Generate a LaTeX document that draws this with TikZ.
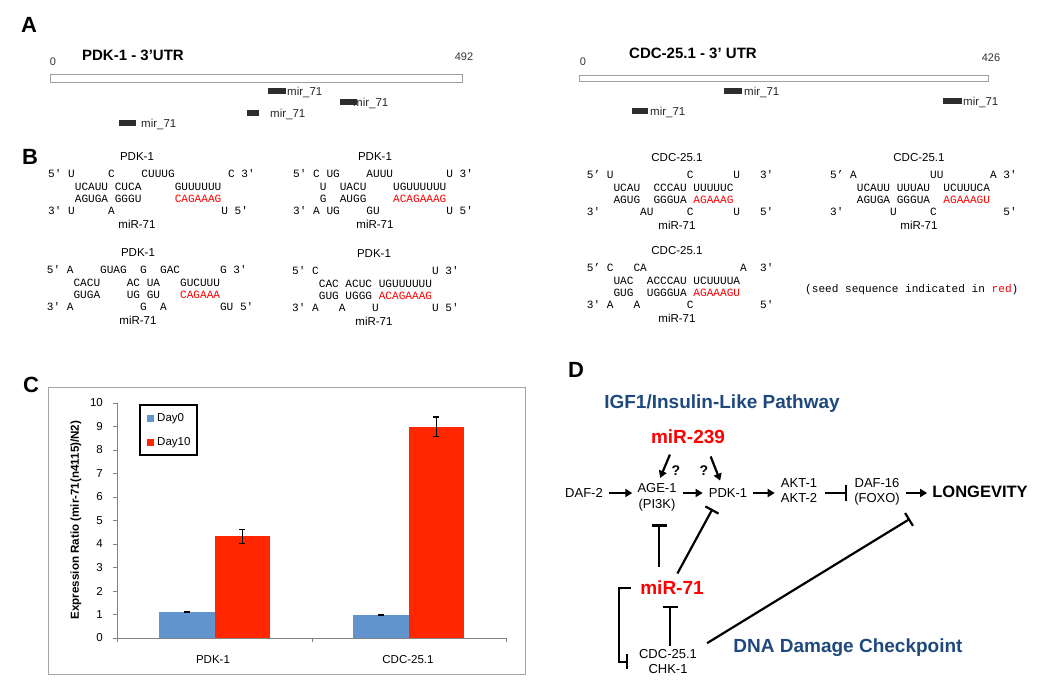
\documentclass[tikz,border=0pt]{standalone}
\usepackage{fontspec}
\setmainfont{Liberation Sans}
\setmonofont{Liberation Mono}
\usepackage{tikz}
\usetikzlibrary{arrows.meta,positioning,calc}

\definecolor{pathblue}{RGB}{31,73,125}
\definecolor{mirred}{RGB}{255,0,0}
\definecolor{seedred}{RGB}{255,0,0}
\definecolor{dayzero}{RGB}{98,149,206}
\definecolor{dayten}{RGB}{255,38,0}
\definecolor{framegray}{RGB}{165,165,165}
\definecolor{axisgray}{RGB}{130,130,130}
\definecolor{sitegray}{RGB}{45,45,45}

\newcommand{\seed}[1]{\textcolor{seedred}{#1}}
% #1 name, #2 left x, #3 first row y, #4 centre x of labels, #5 target, #6-#9 rows
\newcommand{\hybrid}[9]{%
  \node[genelabel] (#1-t) at (#4,#3-18) {#5};
  \node[seqrow] (#1-a) at (#2,#3+3) {#6};
  \node[seqrow] (#1-b) at (#2,#3+15.3) {#7};
  \node[seqrow] (#1-c) at (#2,#3+27.6) {#8};
  \node[seqrow] (#1-d) at (#2,#3+39.9) {#9};
  \node[genelabel] (#1-m) at (#4,#3+49) {miR-71};
}

\tikzset{
  panel/.style={font=\bfseries\fontsize{22}{26}\selectfont, inner sep=0pt},
  utrtitle/.style={font=\bfseries\fontsize{15}{18}\selectfont, inner sep=0pt},
  utrbar/.style={draw=gray!75, fill=white, line width=0.8pt},
  sitelabel/.style={font=\fontsize{11.5}{14}\selectfont, anchor=base west, inner sep=0pt, text=black!85},
  scalelabel/.style={font=\fontsize{11}{13}\selectfont, inner sep=0pt, text=black!80},
  genelabel/.style={font=\fontsize{11.5}{14}\selectfont, inner sep=0pt},
  seqrow/.style={font=\ttfamily\fontsize{11.1}{13}\selectfont, anchor=base west, inner sep=0pt},
  ticklabel/.style={font=\fontsize{11.5}{14}\selectfont, anchor=east, inner sep=0pt},
  catlabel/.style={font=\fontsize{11.5}{14}\selectfont, inner sep=0pt},
  axislabel/.style={font=\bfseries\fontsize{11.6}{14}\selectfont, inner sep=0pt},
  legendtext/.style={font=\fontsize{11.5}{14}\selectfont, anchor=west, inner sep=0pt},
  errbar/.style={line width=1.2pt, black},
  pathway/.style={font=\bfseries\fontsize{19}{22}\selectfont, text=pathblue},
  mirna/.style={font=\bfseries\fontsize{19}{22}\selectfont, text=mirred, inner sep=3pt},
  gene/.style={font=\fontsize{13}{15.5}\selectfont, align=center, inner sep=3pt},
  outcome/.style={font=\bfseries\fontsize{16.5}{19}\selectfont, inner sep=3pt},
  query/.style={font=\bfseries\fontsize{14}{16}\selectfont, inner sep=0pt},
  act/.style={line width=2.2pt, -{Triangle[length=7pt,width=8pt]}},
  inh/.style={line width=2.2pt, -{Bar[width=15pt]}}
}

\begin{document}
\begin{tikzpicture}[x=1pt,y=-1pt]
  \useasboundingbox (0,0) rectangle (1050,692);

  % Panel A: miR-71 sites along the 3'UTRs
  \node[panel] (labA) at (29,25) {A};
  \node[utrtitle] (utrpdk) at (133,55) {PDK-1 - 3’UTR};
  \node[scalelabel] (pdkzero) at (53,62) {0};
  \node[scalelabel] (pdkend) at (464,57) {492};
  \draw[utrbar] (50,74) rectangle (462,82);
  \node[utrtitle] (utrcdc) at (693,53) {CDC-25.1 - 3’ UTR};
  \node[scalelabel] (cdczero) at (583,62) {0};
  \node[scalelabel] (cdcend) at (991,58) {426};
  \draw[utrbar] (579,75) rectangle (988,81);
  \foreach \xa/\ya/\xb/\xl [count=\i] in {268/88/286/287, 353/99/357/353, 247/110/259/270,
      119/120/136/141, 724/88/742/744, 943/98/962/963, 632/108/648/650} {
    \node[sitelabel] (site\i) at (\xl,\ya+7.1) {mir\_71};
    \fill[sitegray] (\xa,\ya) rectangle (\xb,\ya+6);
  }
  \fill[sitegray] (340,99) rectangle (357,105);

  % Panel B: predicted duplexes
  \node[panel] (labB) at (30,157) {B};
  \hybrid{pa}{48}{175}{137}{PDK-1}
    {5'~U~~~~~C~~~~CUUUG~~~~~~~~C~3'}
    {~~~~UCAUU~CUCA~~~~~GUUUUUU}
    {~~~~AGUGA~GGGU~~~~~\seed{CAGAAAG}}
    {3'~U~~~~~A~~~~~~~~~~~~~~~~U~5'}
  \hybrid{pb}{293}{175}{375}{PDK-1}
    {5'~C~UG~~~~AUUU~~~~~~~~U~3'}
    {~~~~U~~UACU~~~~UGUUUUUU}
    {~~~~G~~AUGG~~~~\seed{ACAGAAAG}}
    {3'~A~UG~~~~GU~~~~~~~~~~U~5'}
  \hybrid{pc}{46.7}{271}{138}{PDK-1}
    {5'~A~~~~GUAG~~G~~GAC~~~~~~G~3'}
    {~~~~CACU~~~~AC~UA~~~GUCUUU}
    {~~~~GUGA~~~~UG~GU~~~\seed{CAGAAA}}
    {3'~A~~~~~~~~~~G~~A~~~~~~~~GU~5'}
  \hybrid{pd}{292}{272}{374}{PDK-1}
    {5'~C~~~~~~~~~~~~~~~~~U~3'}
    {~~~~CAC~ACUC~UGUUUUUU}
    {~~~~GUG~UGGG~\seed{ACAGAAAG}}
    {3'~A~~~A~~~~U~~~~~~~~U~5'}
  \hybrid{pe}{586.7}{176}{677}{CDC-25.1}
    {5’~U~~~~~~~~~~~C~~~~~~U~~~3'}
    {~~~~UCAU~~CCCAU~UUUUUC}
    {~~~~AGUG~~GGGUA~\seed{AGAAAG}}
    {3'~~~~~~AU~~~~~C~~~~~~U~~~5'}
  \hybrid{pf}{830}{176}{919}{CDC-25.1}
    {5’~A~~~~~~~~~~~UU~~~~~~~A~3'}
    {~~~~UCAUU~UUUAU~~UCUUUCA}
    {~~~~AGUGA~GGGUA~~\seed{AGAAAGU}}
    {3'~~~~~~~U~~~~~C~~~~~~~~~~5'}
  \hybrid{pg}{586.7}{269}{677}{CDC-25.1}
    {5’~C~~~CA~~~~~~~~~~~~~~A~~3'}
    {~~~~UAC~~ACCCAU~UCUUUUA}
    {~~~~GUG~~UGGGUA~\seed{AGAAAGU}}
    {3'~A~~~A~~~~~~~C~~~~~~~~~~5'}
  \node[seqrow] (seednote) at (805,293) {(seed sequence indicated in \seed{red})};

  % Panel C: expression ratio chart
  \node[panel] (labC) at (31,385) {C};
  \draw[framegray, line width=1pt] (48,388) rectangle (525,674);
  \begin{scope}[shift={(117,638)}, y=23.5pt]
    \foreach \v in {0,...,10} {
      \draw[axisgray] (-4,\v) -- (0,\v);
      \node[ticklabel] (ytick\v) at (-14,\v) {\v};
    }
    \foreach \cx/\vz/\ez/\vt/\et in {97.5/1.1/0.02/4.33/0.3, 291.5/0.98/0.03/8.98/0.42} {
      \fill[dayzero] (\cx-55.5,0) rectangle (\cx,\vz);
      \fill[dayten] (\cx,0) rectangle (\cx+55.5,\vt);
      \draw[errbar] ({\cx-27.75},{\vz-\ez}) -- ({\cx-27.75},{\vz+\ez})
        ({\cx-30.75},{\vz-\ez}) -- ({\cx-24.75},{\vz-\ez})
        ({\cx-30.75},{\vz+\ez}) -- ({\cx-24.75},{\vz+\ez});
      \draw[errbar] ({\cx+27.75},{\vt-\et}) -- ({\cx+27.75},{\vt+\et})
        ({\cx+24.75},{\vt-\et}) -- ({\cx+30.75},{\vt-\et})
        ({\cx+24.75},{\vt+\et}) -- ({\cx+30.75},{\vt+\et});
    }
    \draw[axisgray] (0,10) -- (0,0) -- (389,0);
    \foreach \x in {0,195,389} \draw[axisgray] (\x,0) -- (\x,-0.17);
  \end{scope}
  \node[catlabel] (catpdk) at (213,660) {PDK-1};
  \node[catlabel] (catcdc) at (408,660) {CDC-25.1};
  \node[axislabel, rotate=90] (ylab) at (76,520) {Expression Ratio (mir-71(n4115)/N2)};
  \draw[black, line width=1.3pt] (140,405) rectangle (197,455);
  \fill[dayzero] (147,415) rectangle (154,422);
  \node[legendtext] (legzero) at (157,419) {Day0};
  \fill[dayten] (147,439) rectangle (154,446);
  \node[legendtext] (legten) at (157,443) {Day10};

  % Panel D: pathway model
  \node[panel] (labD) at (576,370) {D};
  \node[pathway] (igf) at (722,403.5) {IGF1/Insulin-Like Pathway};
  \node[pathway] (dna) at (848,647.5) {DNA Damage Checkpoint};
  \node[mirna] (mir239) at (688,437) {miR-239};
  \node[mirna] (mir71) at (672,588) {miR-71};
  \node[gene] (daf2) at (584,493) {DAF-2};
  \node[gene] (age1) at (657,497.5) {AGE-1\\(PI3K)};
  \node[gene] (pdk1) at (728,493) {PDK-1};
  \node[gene] (akt) at (799,490.7) {AKT-1\\AKT-2};
  \node[gene] (daf16) at (877,492) {DAF-16\\(FOXO)};
  \node[outcome] (longevity) at (980,492) {LONGEVITY};
  \node[gene] (cdc) at (668,661.7) {CDC-25.1\\CHK-1};
  \node[query] (qage) at (676,471) {?};
  \node[query] (qpdk) at (704,471) {?};

  \draw[act, shorten <=3pt, shorten >=2pt] (daf2.east) -- (daf2.east -| age1.west);
  \draw[act, shorten <=3pt, shorten >=3pt] (pdk1.west -| age1.east) -- (pdk1.west);
  \draw[act, shorten <=3pt, shorten >=3pt] (pdk1.east) -- (pdk1.east -| akt.west);
  \draw[inh, shorten <=5pt, shorten >=4pt] (pdk1.east -| akt.east) -- (pdk1.east -| daf16.west);
  \draw[act, shorten <=3pt, shorten >=2pt] (pdk1.east -| daf16.east) -- (pdk1.east -| longevity.west);
  \draw[act, shorten <=8pt, shorten >=3pt] ([xshift=-15pt]mir239.south) -- ([xshift=2pt]age1.north);
  \draw[act, shorten <=10pt, shorten >=5pt] ([xshift=19pt]mir239.south) -- ([xshift=-6pt]pdk1.north);
  \draw[inh, shorten <=11pt, shorten >=10pt] ([xshift=-13pt]mir71.north) -- ([xshift=-13pt]mir71.north |- age1.south);
  \draw[inh, shorten <=5pt, shorten >=9.5pt] ([xshift=3pt]mir71.north) -- ([xshift=-11pt]pdk1.south);
  \draw[inh, shorten >=8pt] ([xshift=2pt]cdc.north) -- ([xshift=2pt]cdc.north |- mir71.south);
  \draw[inh, shorten <=6.5pt, shorten >=8pt] (mir71.west) -- ++(-18,0) |- (cdc.west);
  \draw[inh] ([shift={(7,-3)}]cdc.north east) -- ([shift={(7,10)}]daf16.south east);
\end{tikzpicture}
\end{document}
